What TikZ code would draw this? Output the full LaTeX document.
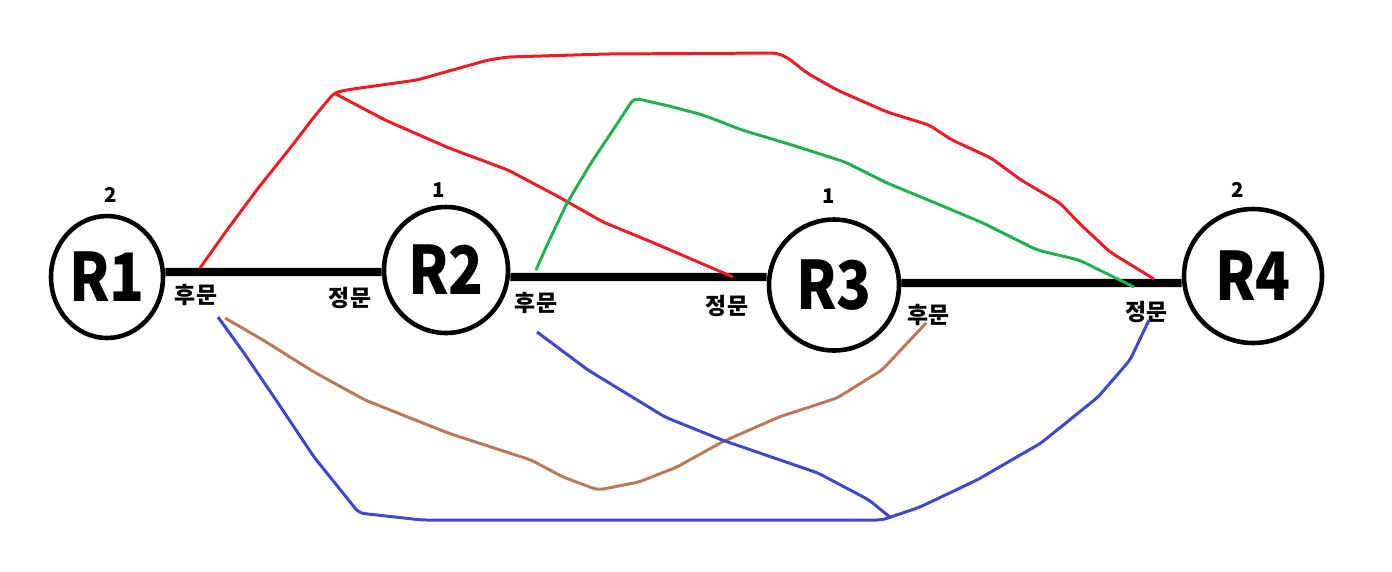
\documentclass[tikz,border=0pt]{standalone}
\usepackage{fontspec}
\setmainfont{Noto Sans CJK KR}
\usetikzlibrary{shapes.geometric,positioning}

\definecolor{paintred}{RGB}{237,28,36}
\definecolor{paintgreen}{RGB}{34,177,76}
\definecolor{paintbrown}{RGB}{185,122,87}
\definecolor{paintblue}{RGB}{63,72,204}

\begin{document}
\begin{tikzpicture}

\def\rn#1{\scalebox{0.86}[1]{#1}}   % Narrow router names

% Styles for the routers, the links between them and the hand drawn paths
\tikzstyle{router}=[draw, ellipse, line width=1.3pt, inner sep=0pt, font=\fontsize{19}{20}\selectfont\bfseries]
\tikzstyle{link}=[line width=2.3pt]
\tikzstyle{gate}=[inner sep=0pt, font=\fontsize{6.5}{7}\selectfont\bfseries]
\tikzstyle{weight}=[inner sep=0pt, font=\fontsize{5.8}{6}\selectfont\bfseries]
\tikzstyle{route}=[line width=0.85pt, line join=round, rounded corners=1.5pt]

\useasboundingbox (0,0) rectangle (13.92,-5.71);

% The four routers
\node [router, minimum width=1.12cm, minimum height=1.22cm] (r1) at (1.07,-2.77) {\rn{R1}};
\node [router, minimum width=1.24cm, minimum height=1.26cm] (r2) at (4.46,-2.70) {\rn{R2}};
\node [router, minimum width=1.30cm, minimum height=1.31cm] (r3) at (8.34,-2.85) {\rn{R3}};
\node [router, minimum width=1.38cm, minimum height=1.34cm] (r4) at (12.53,-2.76) {\rn{R4}};

% Weights above the routers
\node [weight, above=0.11 of r1, xshift=0.04cm] (w1) {2};
\node [weight, above=0.07 of r2, xshift=-0.07cm] (w2) {1};
\node [weight, above=0.13 of r3, xshift=-0.05cm] (w3) {1};
\node [weight, above=0.09 of r4, xshift=-0.15cm] (w4) {2};

% Links between the routers
\draw [link] ([yshift=0.05cm]r1.east) -- ([yshift=-0.02cm]r2.west);
\draw [link] ([yshift=-0.07cm]r2.east) -- ([yshift=0.08cm]r3.west);
\draw [link] ([yshift=0.02cm]r3.east) -- ([yshift=-0.07cm]r4.west);

% Gates
\node [gate] (back1) at (1.96,-2.95) {후문};
\node [gate] (front2) at (3.50,-2.98) {정문};
\node [gate] (back2) at (5.36,-3.03) {후문};
\node [gate] (front3) at (7.27,-3.06) {정문};
\node [gate] (back3) at (9.28,-3.15) {후문};
\node [gate] (front4) at (11.46,-3.12) {정문};

% End points of the paths
\coordinate (p1) at (2.00,-2.68);
\coordinate (p2) at (2.25,-3.18);
\coordinate (p3) at (2.18,-3.17);
\coordinate (p4) at (5.36,-2.70);
\coordinate (p5) at (5.37,-3.32);
\coordinate (p6) at (7.33,-2.77);
\coordinate (p7) at (9.26,-3.23);
\coordinate (p8) at (11.54,-2.79);
\coordinate (p9) at (11.34,-2.87);
\coordinate (p10) at (11.49,-3.20);
\coordinate (redtop) at (3.34,-0.93);
\coordinate (greentop) at (6.34,-0.98);
\coordinate (bluemeet) at (8.91,-5.18);

% Red paths
\draw [route, paintred] (p1) -- (2.27,-2.30) -- (2.59,-1.87) -- (2.91,-1.47) -- (3.14,-1.17) -- (redtop)
   -- (3.46,-0.90) -- (4.17,-0.80) -- (4.88,-0.60) -- (5.08,-0.57) -- (6.07,-0.54) -- (7.77,-0.53)
   -- (7.88,-0.58) -- (8.07,-0.73) -- (8.37,-0.90) -- (8.87,-1.12) -- (9.29,-1.25) -- (9.52,-1.40)
   -- (9.91,-1.58) -- (10.21,-1.80) -- (10.60,-2.03) -- (10.79,-2.23) -- (11.10,-2.52) -- (p8);
\draw [route, paintred] (redtop) -- (3.85,-1.20) -- (4.49,-1.48) -- (5.08,-1.70) -- (5.59,-1.97)
   -- (6.03,-2.22) -- (6.54,-2.43) -- (p6);

% Green path
\draw [route, paintgreen] (p4) -- (5.48,-2.43) -- (5.67,-2.03) -- (5.91,-1.63) -- (6.15,-1.27) -- (greentop)
   -- (6.69,-1.06) -- (7.03,-1.15) -- (7.42,-1.30) -- (7.92,-1.45) -- (8.45,-1.62) -- (8.87,-1.83)
   -- (9.45,-2.07) -- (9.83,-2.23) -- (10.37,-2.50) -- (10.79,-2.60) -- (p9);

% Brown path
\draw [route, paintbrown] (p2) -- (2.63,-3.40) -- (3.14,-3.72) -- (3.65,-4.00) -- (4.48,-4.33) -- (5.31,-4.60)
   -- (5.63,-4.77) -- (5.98,-4.90) -- (6.39,-4.82) -- (6.77,-4.67) -- (7.22,-4.42) -- (7.79,-4.17)
   -- (8.37,-3.98) -- (8.82,-3.70) -- (p7);

% Blue paths
\draw [route, paintblue] (p3) -- (2.44,-3.53) -- (2.76,-4.00) -- (3.14,-4.57) -- (3.59,-5.13) -- (4.22,-5.20)
   -- (8.82,-5.20) -- (9.20,-5.07) -- (9.77,-4.80) -- (10.41,-4.43) -- (10.98,-3.97) -- (11.30,-3.60) -- (p10);
\draw [route, paintblue] (p5) -- (5.88,-3.70) -- (6.65,-4.17) -- (7.22,-4.40) -- (8.18,-4.73) -- (8.69,-5.00) -- (bluemeet);

\end{tikzpicture}
\end{document}
